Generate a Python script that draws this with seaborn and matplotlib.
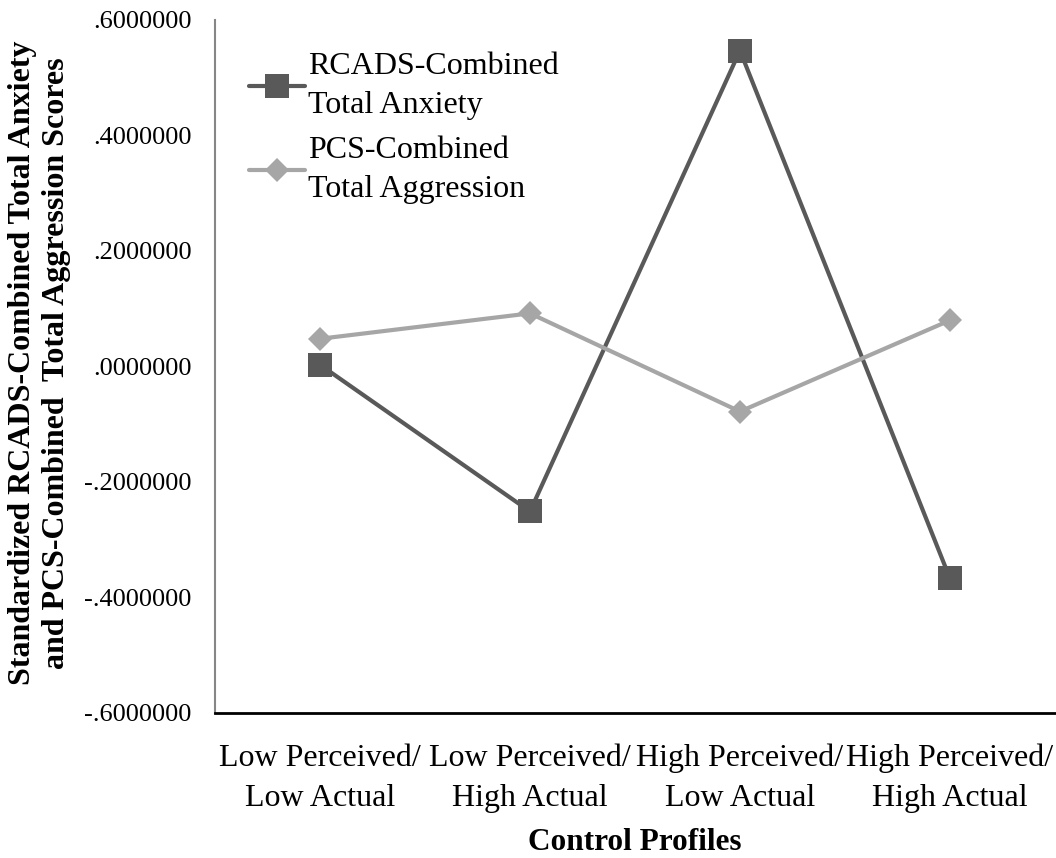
import matplotlib
matplotlib.use("Agg")
import matplotlib.pyplot as plt
import seaborn as sns
import pandas as pd
from matplotlib.ticker import FuncFormatter, MultipleLocator

categories = ["Low Perceived/\nLow Actual", "Low Perceived/\nHigh Actual",
              "High Perceived/\nLow Actual", "High Perceived/\nHigh Actual"]
rcads = [0.003, -0.251, 0.547, -0.367]
pcs = [0.048, 0.092, -0.078, 0.080]
series_names = ["RCADS-Combined\nTotal Anxiety", "PCS-Combined\nTotal Aggression"]

df = pd.DataFrame({
    "profile": categories * 2,
    "score": rcads + pcs,
    "series": [series_names[0]] * 4 + [series_names[1]] * 4,
})

sns.set_theme(style="white")
plt.rcParams["font.family"] = ["Liberation Serif", "DejaVu Serif"]
plt.rcParams["text.color"] = "black"
plt.rcParams["axes.labelcolor"] = "black"

fig = plt.figure(figsize=(10.56, 8.58), dpi=100)
ax = fig.add_axes([0.2036, 0.169, 0.7954, 0.8077])

palette = {series_names[0]: "#595959", series_names[1]: "#a6a6a6"}
markers = {series_names[0]: "s", series_names[1]: "D"}
sizes_m = {series_names[0]: 17, series_names[1]: 12}

for name in series_names:
    sub = df[df["series"] == name]
    sns.lineplot(data=sub, x="profile", y="score", ax=ax, color=palette[name],
                 marker=markers[name], markersize=sizes_m[name], linewidth=3,
                 markeredgewidth=0, label=name, sort=False)

ax.set_xlim(-0.5, 3.5)
ax.set_ylim(-0.6, 0.6)
ax.yaxis.set_major_locator(MultipleLocator(0.2))

def fmt(v, pos):
    s = f"{v:.7f}"
    if s.startswith("-0"):
        s = "-" + s[2:]
    elif s.startswith("0"):
        s = s[1:]
    if s == "-.0000000":
        s = ".0000000"
    return s

ax.yaxis.set_major_formatter(FuncFormatter(fmt))
ax.tick_params(axis="both", length=0, colors="black", labelcolor="black")
ax.tick_params(axis="y", pad=17, labelsize=19)
ax.tick_params(axis="x", pad=22, labelsize=23)
for lab in ax.get_xticklabels():
    lab.set_linespacing(1.5)

for s in ["top", "right"]:
    ax.spines[s].set_visible(False)
ax.spines["left"].set_color("#868686")
ax.spines["left"].set_linewidth(1.5)
ax.spines["bottom"].set_color("black")
ax.spines["bottom"].set_linewidth(2)

ax.set_xlabel("Control Profiles", fontsize=22.5, fontweight="bold", color="black")
ax.xaxis.set_label_coords(0.5, -0.166)
ax.set_ylabel("Standardized RCADS-Combined Total Anxiety\nand PCS-Combined  Total Aggression Scores",
              fontsize=23, fontweight="bold", linespacing=1.2, color="black")
ax.yaxis.set_label_coords(-0.172, 0.505)

leg = ax.legend(loc="upper left", bbox_to_anchor=(0.025, 0.972), frameon=False,
                fontsize=23, handlelength=1.75, handletextpad=0.1,
                labelspacing=0.5, borderaxespad=0)
for t in leg.get_texts():
    t.set_linespacing(1.45)
    t.set_color("black")

fig.savefig("out.png", dpi=100)
